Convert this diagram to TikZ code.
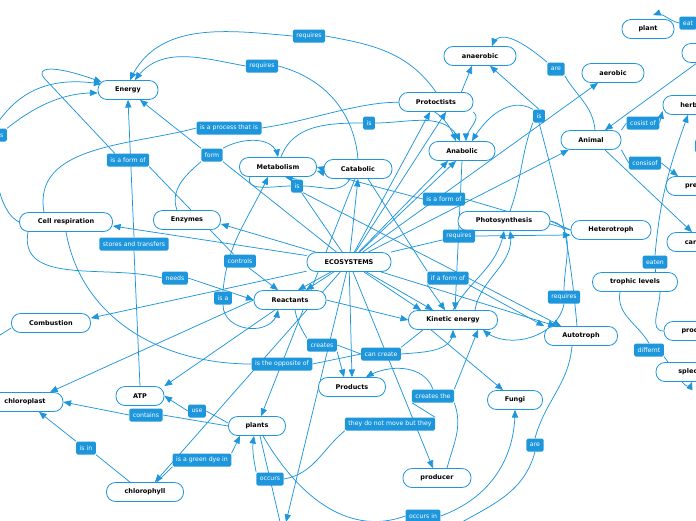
\documentclass[tikz,border=0pt]{standalone}
\usepackage{fontspec}
\setmainfont{DejaVu Sans}
\usetikzlibrary{arrows,backgrounds}
\definecolor{mapblue}{RGB}{30,150,220}
\tikzset{
  concept/.style={draw=mapblue,line width=0.8pt,fill=white,rounded corners=9pt,
    minimum height=19pt,inner xsep=4pt,font=\fontsize{6.5}{7}\selectfont\bfseries,text=black},
  linklabel/.style={fill=mapblue,rounded corners=1.5pt,minimum height=13pt,
    inner xsep=3.5pt,inner ysep=1pt,font=\fontsize{6.2}{7}\selectfont,text=white},
  conn/.style={draw=mapblue,line width=0.75pt},
}
\begin{document}
\begin{tikzpicture}[line cap=round,line join=round,>=triangle 45,x=1pt,y=-1pt]
\useasboundingbox (0,0) rectangle (696,520);
% concepts
\node[concept,minimum width=60pt] (energy) at (128,90) {Energy};
\node[concept,minimum width=72pt] (anaerobic) at (480,56) {anaerobic};
\node[concept,minimum width=62pt] (aerobic) at (613,73) {aerobic};
\node[concept,minimum width=52pt] (plant) at (648,29) {plant};
\node[concept,minimum width=80pt] (topright) at (722,53) {};
\node[concept,minimum width=74pt] (protoctists) at (436,102) {Protoctists};
\node[concept,minimum width=66pt] (anabolic) at (462,151) {Anabolic};
\node[concept,minimum width=60pt] (animal) at (591,140) {Animal};
\node[concept,minimum width=74pt] (herbivores) at (700,105) {herbivores};
\node[concept,minimum width=74pt] (predators) at (703,186) {predators};
\node[concept,minimum width=74pt] (carnivores) at (704,242) {carnivores};
\node[concept,minimum width=77pt] (metabolism) at (278,167) {Metabolism};
\node[concept,minimum width=68pt] (catabolic) at (358,169) {Catabolic};
\node[concept,minimum width=93pt] (cellresp) at (66,222) {Cell respiration};
\node[concept,minimum width=67pt] (enzymes) at (187,220) {Enzymes};
\node[concept,minimum width=92pt] (photosynthesis) at (504,221) {Photosynthesis};
\node[concept,minimum width=80pt] (heterotroph) at (611,230) {Heterotroph};
\node[concept,minimum width=84pt] (eco) at (349,262) {ECOSYSTEMS};
\node[concept,minimum width=72pt] (reactants) at (290,300) {Reactants};
\node[concept,minimum width=89pt] (kinetic) at (453,320) {Kinetic energy};
\node[concept,minimum width=73pt] (autotroph) at (581,336) {Autotroph};
\node[concept,minimum width=85pt] (trophic) at (635,282) {trophic levels};
\node[concept,minimum width=72pt] (producers) at (700,331) {producers};
\node[concept,minimum width=72pt] (spleces) at (692,372) {spleces};
\node[concept,minimum width=79pt] (combustion) at (51,323) {Combustion};
\node[concept,minimum width=67pt] (products) at (352,387) {Products};
\node[concept,minimum width=76pt] (chloroplast) at (25,402) {chloroplast};
\node[concept,minimum width=48pt] (atp) at (140,396) {ATP};
\node[concept,minimum width=57pt] (plants) at (257,426) {plants};
\node[concept,minimum width=55pt] (fungi) at (515,400) {Fungi};
\node[concept,minimum width=77pt] (chlorophyll) at (145,492) {chlorophyll};
\node[concept,minimum width=68pt] (producer) at (437,478) {producer};
% link labels
\node[linklabel] (lreqa) at (309,36) {requires};
\node[linklabel] (lreqb) at (262,66) {requires};
\node[linklabel] (lneedsl) at (-6,135) {needs};
\node[linklabel] (lprocess) at (229,128) {is a process that is};
\node[linklabel] (lisa) at (369,123) {is};
\node[linklabel] (lformof) at (128,160) {is a form of};
\node[linklabel] (lform) at (212,155) {form};
\node[linklabel] (lisb) at (297,186) {is};
\node[linklabel] (lformofb) at (444,199) {is a form of};
\node[linklabel] (lare) at (556,69) {are};
\node[linklabel] (lisc) at (539,116) {is};
\node[linklabel] (lcosist) at (643,123) {cosist of};
\node[linklabel] (lconsis) at (645,163) {consisof};
\node[linklabel,minimum width=20pt] (lsmall) at (705,146) {};
\node[linklabel] (lstores) at (134,244) {stores and transfers};
\node[linklabel] (lneeds) at (175,278) {needs};
\node[linklabel] (lcontrols) at (240,261) {controls};
\node[linklabel] (lisaa) at (223,298) {is a};
\node[linklabel] (lreqc) at (459,236) {requires};
\node[linklabel] (lifform) at (448,278) {if a form of};
\node[linklabel] (lreqd) at (564,297) {requires};
\node[linklabel] (leaten) at (655,262) {eaten};
\node[linklabel] (lcreates) at (322,345) {creates};
\node[linklabel] (lcancreate) at (381,354) {can create};
\node[linklabel] (lopposite) at (282,364) {is the opposite of};
\node[linklabel] (ldiff) at (649,350) {differnt};
\node[linklabel] (lcreatesthe) at (433,396) {creates the};
\node[linklabel] (lnomove) at (390,424) {they do not move but they};
\node[linklabel] (lcontains) at (146,415) {contains};
\node[linklabel] (luse) at (197,411) {use};
\node[linklabel] (lisin) at (86,448) {is in};
\node[linklabel] (lgreen) at (202,460) {is a green dye in};
\node[linklabel] (loccurs) at (270,479) {occurs};
\node[linklabel] (lareb) at (535,445) {are};
\node[linklabel] (loccursin) at (423,516) {occurs in};
\node[linklabel] (leat) at (688,23) {eat};
% free ends
\coordinate (bottomend) at (286,522);
\coordinate (plantsdown) at (281,526);
\coordinate (arebottom) at (455,526);
\coordinate (combleft) at (-3,337);
\begin{scope}[on background layer]
% spokes of ECOSYSTEMS
\draw[conn,->] (eco) -- ([yshift=-4pt]cellresp.east);
\draw[conn,->] (eco) -- ([yshift=-4pt]enzymes.east);
\draw[conn,->] (eco) -- (catabolic.south);
\draw[conn,->] (eco) -- ([xshift=-6pt]protoctists.south);
\draw[conn,->] (eco) -- ([xshift=10pt]protoctists.south);
\draw[conn,->] (eco) -- ([xshift=-14pt]anabolic.south);
\draw[conn,->] (eco) -- ([xshift=-6pt]anabolic.south);
\draw[conn,->] (eco) -- ([xshift=-15pt]aerobic.south);
\draw[conn,->] (eco) -- ([xshift=8pt]animal.south west);
\draw[conn,->] (eco) -- ([xshift=8pt]reactants.north);
\draw[conn,->] (eco) -- ([xshift=16pt]reactants.north);
\draw[conn,->] (eco) -- ([xshift=-20pt]kinetic.north);
\draw[conn,->] (eco) -- ([xshift=-32pt]kinetic.north);
\draw[conn,->] (eco) -- ([xshift=-25pt]autotroph.north);
\draw[conn,->] (eco) -- (products.north);
\draw[conn,->] (eco) -- ([xshift=-4pt]producer.north);
\draw[conn,->] (eco) -- ([yshift=5pt]combustion.east);
\draw[conn,->] (eco) -- ([xshift=10pt]chlorophyll.north);
\draw[conn,->] (eco) -- (bottomend);
\draw[conn] (eco) -- (lisb);
\draw[conn] (eco) -- (lform.south east);
\draw[conn] (eco) -- (lreqc);
\draw[conn,->] (lreqc.east) -- ([yshift=-5pt]heterotroph.west);
% Energy
\draw[conn] (lreqa.east) to[out=-10,in=125] (protoctists.north);
\draw[conn,->] (lreqa.west) to[out=175,in=65] ([xshift=2pt]energy.north);
\draw[conn] (lreqb.east) to[out=-15,in=95] (catabolic.north);
\draw[conn,->] (lreqb.west) to[out=170,in=55] ([xshift=7pt]energy.north);
\draw[conn,->] (lform.north west) -- ([xshift=12pt]energy.south);
\draw[conn,->] (lform.north east) to[out=30,in=100] (metabolism.north);
\draw[conn] ([xshift=-10pt]enzymes.north) to[out=110,in=220] (lform.south west);
\draw[conn,->] ([xshift=8pt]lformof.north west) -- (44,78) .. controls (36,68) and (50,63) .. ([xshift=4pt,yshift=-2pt]energy.north west);
\draw[conn] (lformof.south east) -- (lcontrols);
\draw[conn,->] (lcontrols) -- ([xshift=-12pt]reactants.north);
\draw[conn] (atp.north) -- (lstores.south);
\draw[conn,->] (lstores.north) -- (energy.south);
\draw[conn,->] (lneedsl.north east) .. controls (30,110) and (60,92) .. ([yshift=-3pt]energy.west);
\draw[conn,->] (lneedsl.north) .. controls (15,95) and (45,75) .. ([xshift=4pt,yshift=-4pt]energy.north west);
\draw[conn] (lneedsl.south) .. controls (-6,190) and (5,215) .. (cellresp.west);
% Cell respiration
\draw[conn] ([xshift=-22pt]cellresp.north) to[out=100,in=195] (lprocess.west);
\draw[conn,->] (lprocess.east) to[out=8,in=110] ([xshift=-6pt]anabolic.north);
\draw[conn] ([xshift=-38pt]cellresp.south) to[out=-100,in=165] (lneeds.west);
\draw[conn,->] (lneeds.east) -- (reactants.west);
\draw[conn] (cellresp.south) to[out=-80,in=180] (lopposite.west);
\draw[conn] (lopposite.east) -- (lcancreate.west);
\draw[conn,->] (lcancreate.east) to[out=5,in=-90] (kinetic.south);
\draw[conn] ([xshift=-30pt]kinetic.south) -- (lcancreate.north east);
% Metabolism, Catabolic, Anabolic
\draw[conn] (lisa.west) to[out=180,in=70] ([xshift=3pt]metabolism.north);
\draw[conn,->] (lisa.east) to[out=0,in=115] ([xshift=-2pt]anabolic.north);
\draw[conn,->] (protoctists.south east) to[out=-40,in=90] ([xshift=4pt]anabolic.north);
\draw[conn,->] ([xshift=-12pt]protoctists.north east) -- ([xshift=-8pt]anaerobic.south);
\draw[conn,->] (catabolic.west) -- (metabolism.east);
\draw[conn] ([xshift=-8pt]catabolic.south) to[out=-120,in=0] (lisb.east);
\draw[conn] ([xshift=-28pt]metabolism.south) to[out=-110,in=180] (lisb.west);
\draw[conn,->] (lisb.north) -- ([xshift=7pt]metabolism.south);
\draw[conn,->] (lisb.south east) -- ([xshift=-20pt]autotroph.north);
\draw[conn,->] (lisaa.north) to[out=85,in=-115] ([xshift=-10pt]metabolism.south);
\draw[conn,->] (lisaa.south) to[out=-90,in=-100,looseness=1.3] ([xshift=-12pt]reactants.south);
\draw[conn] ([xshift=10pt]catabolic.south) -- (lifform.north west);
\draw[conn,->] (lifform.south west) -- ([xshift=-8pt]kinetic.north);
\draw[conn,->] (lifform.south east) -- (autotroph.north west);
\draw[conn,->] (anabolic.south) -- ([xshift=2pt]kinetic.north);
\draw[conn,->] ([xshift=-3pt]catabolic.south) -- ([xshift=4pt]plants.north);
\draw[conn] (heterotroph.west) -- (lformofb.east);
\draw[conn,->] (lformofb.west) -- ([yshift=-4pt]metabolism.east);
% Photosynthesis, Heterotroph, Autotroph
\draw[conn] (photosynthesis.east) -- (heterotroph.west);
\draw[conn] (photosynthesis.east) to[out=-10,in=90] (lreqd.north);
\draw[conn,->] (lreqd.south) to[out=-100,in=-40] ([xshift=30pt]kinetic.south);
\draw[conn,->] (kinetic.north) to[out=60,in=-100] (photosynthesis.south);
\draw[conn,->] ([xshift=22pt]kinetic.north) to[out=80,in=-80] ([xshift=6pt]photosynthesis.south);
\draw[conn] ([xshift=-4pt]autotroph.north) to[out=95,in=-75] (lisc.south);
\draw[conn,->] (lisc.north) -- ([xshift=10pt]anaerobic.south);
\draw[conn,->] (lisc.north west) to[out=150,in=60] ([xshift=10pt]anabolic.north);
\draw[conn] (lisc.south west) to[out=-110,in=70] ([xshift=6pt]photosynthesis.north);
\draw[conn] ([xshift=-9pt]autotroph.south) to[out=-95,in=75] (lareb.north);
\draw[conn] (lareb.south) to[out=-105,in=30] (arebottom);
% Animal and the right side
\draw[conn] ([xshift=4pt]animal.north) to[out=95,in=-60] (lare.south east);
\draw[conn,->] (lare.north west) to[out=140,in=70] ([xshift=12pt]anaerobic.north);
\draw[conn] (animal.north east) -- (lcosist.west);
\draw[conn,->] (lcosist.east) -- ([yshift=-6pt]herbivores.west);
\draw[conn] (animal.south east) -- (lconsis.west);
\draw[conn,->] (lconsis.east) -- ([xshift=-25pt]predators.north);
\draw[conn,->] ([xshift=14pt]animal.south) -- ([xshift=-12pt]carnivores.north);
\draw[conn,->] ([xshift=-25pt]topright.south) -- ([xshift=14pt]animal.north);
\draw[conn,->] (leat.west) to[out=170,in=20] ([xshift=5pt,yshift=4pt]plant.north);
\draw[conn] ([xshift=20pt]trophic.north) -- (leaten.south);
\draw[conn,->] (leaten.north) to[out=85,in=-110] ([xshift=-12pt]herbivores.south);
\draw[conn] ([xshift=25pt]trophic.south) to[out=-90,in=180] (producers.west);
\draw[conn] ([xshift=-15pt]trophic.south) to[out=-100,in=120] (ldiff.north);
\draw[conn,->] (ldiff.south east) to[out=-50,in=-110] (spleces.south);
% Reactants, Products, producer
\draw[conn,->] (reactants.east) -- (kinetic.west);
\draw[conn,->] (reactants.west) -- ([xshift=25pt]chloroplast.north);
\draw[conn,->] ([xshift=-15pt]reactants.south) -- (atp.north east);
\draw[conn] ([xshift=5pt]reactants.south) to[out=-80,in=120] (lcreates.north west);
\draw[conn,->] (lcreates.south east) -- ([xshift=-8pt]products.north);
\draw[conn] (lcreates.east) -- (lcancreate.west);
\draw[conn,->] ([xshift=-22pt]kinetic.south) -- ([xshift=-12pt]fungi.north);
\draw[conn] ([xshift=10pt]producer.north) to[out=75,in=-70] (lcreatesthe.south east);
\draw[conn,->] (lcreatesthe.north) to[out=110,in=30] ([xshift=14pt]products.north);
\draw[conn,->] (lcreatesthe.north east) -- ([xshift=25pt]kinetic.south);
\draw[conn] (lnomove.north east) -- (lcreatesthe.south west);
\draw[conn] (loccurs.east) to[out=10,in=220] (lnomove.south west);
% plants, chlorophyll, ATP
\draw[conn,->] (loccurs.north west) to[out=100,in=-100] ([xshift=-3pt]plants.south);
\draw[conn] ([xshift=3pt]plants.south) -- (plantsdown);
\draw[conn] ([xshift=6pt]plants.south) to[out=-60,in=200] (loccursin.west);
\draw[conn,->] (loccursin.east) to[out=20,in=-90] (fungi.south);
\draw[conn] (plants.west) -- (lcontains.east);
\draw[conn,->] (lcontains.west) -- (chloroplast.east);
\draw[conn] ([yshift=3pt]plants.west) -- (luse.east);
\draw[conn,->] (luse.west) -- (atp.east);
\draw[conn] ([xshift=-15pt]chlorophyll.north) -- (lisin.south east);
\draw[conn,->] (lisin.north west) -- ([xshift=14pt]chloroplast.south);
\draw[conn] ([xshift=12pt]chlorophyll.north) -- (lgreen.south west);
\draw[conn,->] (lgreen.north east) -- ([xshift=-17pt]plants.south);
\draw[conn] ([yshift=-5pt]combustion.west) -- (combleft);
\end{scope}
\end{tikzpicture}
\end{document}
